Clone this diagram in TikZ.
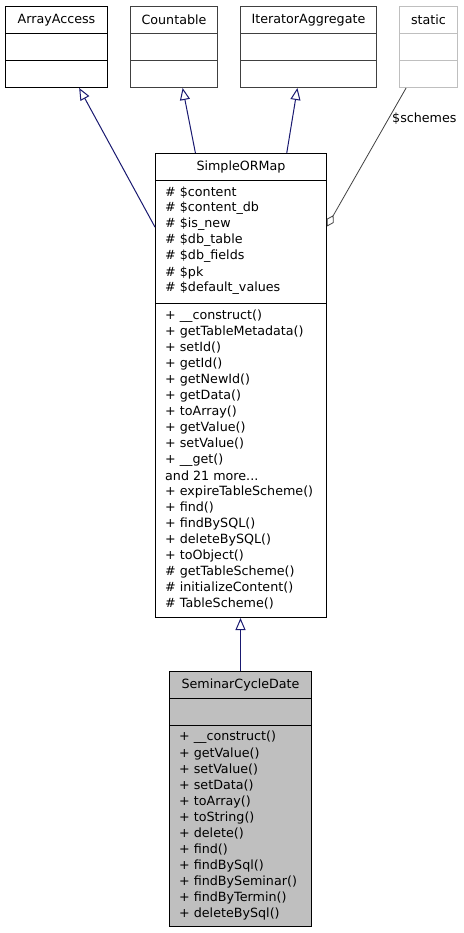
\documentclass[tikz,border=0pt]{standalone}
\usepackage{fontspec}
\setmainfont{DejaVu Sans}
\usetikzlibrary{arrows.meta,calc}
\definecolor{edgeblue}{HTML}{191970}
\definecolor{edgegrey}{HTML}{404040}
\definecolor{lightline}{HTML}{BFBFBF}
\definecolor{boxfill}{HTML}{BFBFBF}
\newcommand\andmoretext{and 21 more...}
\begin{document}
\begin{tikzpicture}[x=1pt,y=-1pt,
  font=\fontsize{12.7}{16}\selectfont,
  sect/.style={draw=black, line width=1pt, inner sep=0pt, anchor=north west},
  greysect/.style={sect, draw=lightline},
  darksect/.style={sect, draw=edgegrey},
  filled/.style={sect, fill=boxfill},
  title/.style={inner sep=0pt, anchor=center},
  member/.style={inner sep=0pt, anchor=west},
  inh/.style={draw=edgeblue, line width=1pt, -{Triangle[open,length=12pt,width=10pt]}},
  agg/.style={draw=edgegrey, line width=0.8pt, -{Diamond[open,length=13pt,width=8pt]}}]
\useasboundingbox (0,0) rectangle (463,933);

% ArrayAccess
\node[sect, minimum width=102pt, minimum height=27pt] (aaH) at (5,6) {};
\node[sect, minimum width=102pt, minimum height=27pt] (aaA) at (5,33) {};
\node[sect, minimum width=102pt, minimum height=27pt] (aaM) at (5,60) {};
\node[title] (aaT) at (aaH.center) {ArrayAccess};

% Countable
\node[darksect, minimum width=87pt, minimum height=27pt] (cH) at (130,6) {};
\node[darksect, minimum width=87pt, minimum height=27pt] (cA) at (130,33) {};
\node[darksect, minimum width=87pt, minimum height=27pt] (cM) at (130,60) {};
\node[title] (cT) at (cH.center) {Countable};

% IteratorAggregate
\node[darksect, minimum width=136pt, minimum height=27pt] (iH) at (240,6) {};
\node[darksect, minimum width=136pt, minimum height=27pt] (iA) at (240,33) {};
\node[darksect, minimum width=136pt, minimum height=27pt] (iM) at (240,60) {};
\node[title] (iT) at (iH.center) {IteratorAggregate};

% static
\node[greysect, minimum width=58pt, minimum height=27pt] (stH) at (399,6) {};
\node[greysect, minimum width=58pt, minimum height=27pt] (stA) at (399,33) {};
\node[greysect, minimum width=58pt, minimum height=27pt] (stM) at (399,60) {};
\node[title] (stT) at (stH.center) {static};

% SimpleORMap
\node[sect, minimum width=171pt, minimum height=27pt] (smoH) at (155,153) {};
\node[sect, minimum width=171pt, minimum height=123pt] (smoA) at (155,180) {};
\node[sect, minimum width=171pt, minimum height=314pt] (smoM) at (155,303) {};
\node[title] (smoT) at (smoH.center) {SimpleORMap};
\foreach \t [count=\i from 0] in {\# \$content, \# \$content\_db, \# \$is\_new, \# \$db\_table, \# \$db\_fields, \# \$pk, \# \$default\_values}
  \node[member] (smoa\i) at (165,192.5+16*\i) {\t};
\foreach \t [count=\i from 0] in {+ \_\_construct(), + getTableMetadata(), + setId(), + getId(), + getNewId(), + getData(), + toArray(), + getValue(), + setValue(), + \_\_get(), \andmoretext, + expireTableScheme(), + find(), + findBySQL(), + deleteBySQL(), + toObject(), \# getTableScheme(), \# initializeContent(), \# TableScheme()}
  \node[member] (smom\i) at (165,316+16*\i) {\t};

% SeminarCycleDate
\node[filled, minimum width=142pt, minimum height=27pt] (scdH) at (169,671) {};
\node[filled, minimum width=142pt, minimum height=27pt] (scdA) at (169,698) {};
\node[filled, minimum width=142pt, minimum height=201pt] (scdM) at (169,725) {};
\node[title] (scdT) at (scdH.center) {SeminarCycleDate};
\foreach \t [count=\i from 0] in {+ \_\_construct(), + getValue(), + setValue(), + setData(), + toArray(), + toString(), + delete(), + find(), + findBySql(), + findBySeminar(), + findByTermin(), + deleteBySql()}
  \node[member] (scdm\i) at (179,737.5+16*\i) {\t};

% inheritance edges
\draw[inh] ($(smoA.north west)!0.38!(smoA.south west)$) -- ($(aaM.south west)!0.72!(aaM.south east)$);
\draw[inh] ($(smoH.north west)!0.235!(smoH.north east)$) -- ($(cM.south west)!0.598!(cM.south east)$);
\draw[inh] ($(smoH.north west)!0.766!(smoH.north east)$) -- ($(iM.south west)!0.419!(iM.south east)$);
\draw[inh] (scdH.north) -- (scdH.north |- smoM.south);

% aggregation edge
\draw[agg] ($(stM.south west)!0.12!(stM.south east)$) -- ($(smoA.north east)!0.375!(smoA.south east)$);
\node[member] (lbl) at (392,119) {\$schemes};
\end{tikzpicture}
\end{document}
